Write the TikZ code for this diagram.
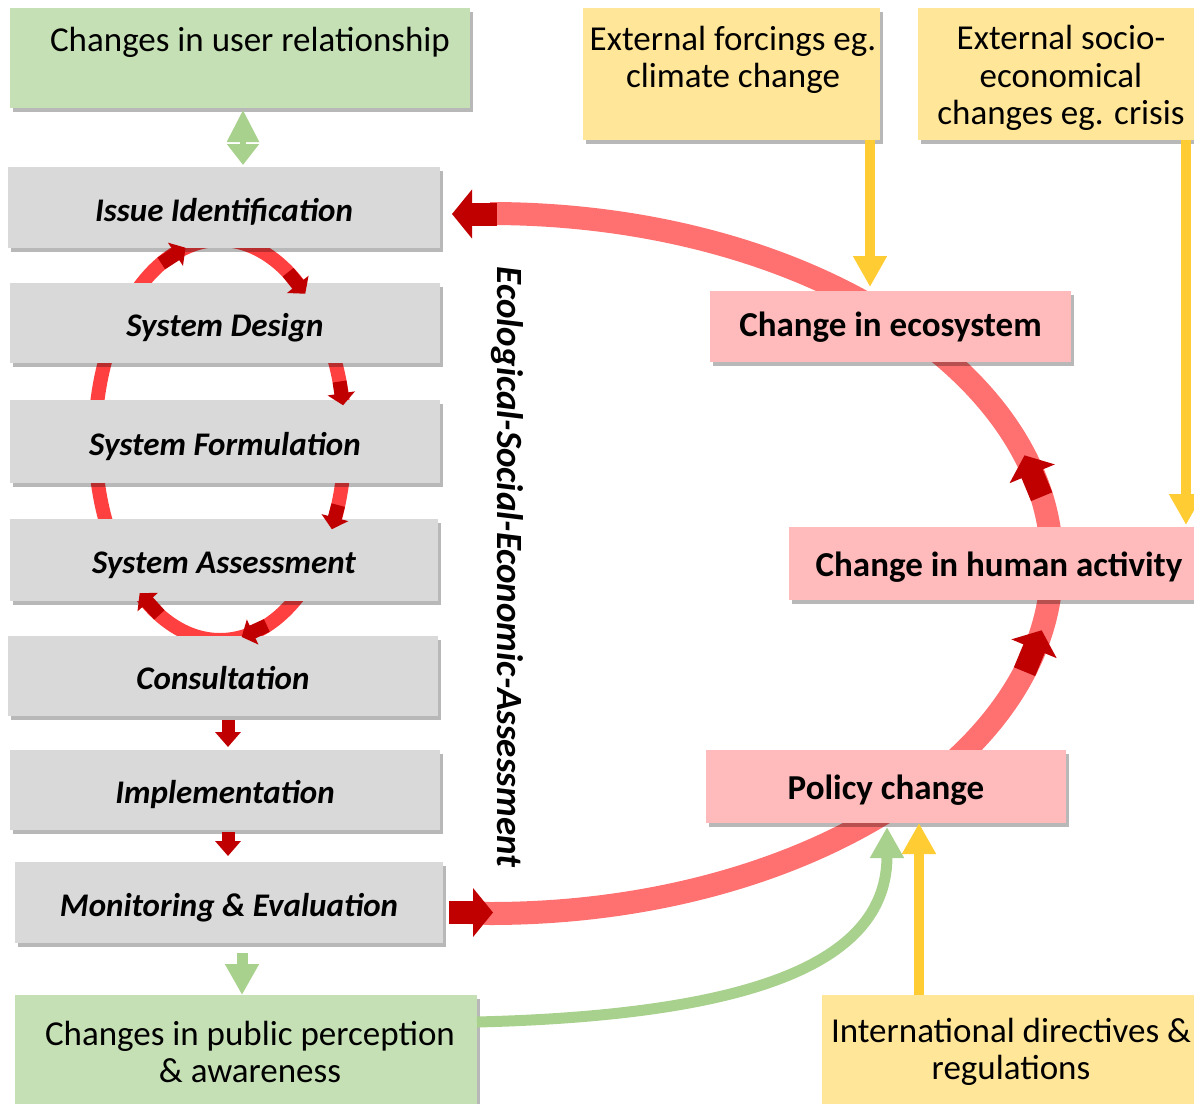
\documentclass[tikz,border=0pt]{standalone}
\usepackage{fontspec}
\setmainfont{Carlito}
\usetikzlibrary{arrows.meta,shadows,calc}
\definecolor{boxgreen}{HTML}{C5E0B4}
\definecolor{boxyellow}{HTML}{FFE699}
\definecolor{boxgrey}{HTML}{D9D9D9}
\definecolor{boxpink}{HTML}{FFBBBB}
\definecolor{bandred}{HTML}{FF7070}
\definecolor{loopred}{HTML}{FF4040}
\definecolor{darkred}{HTML}{C00000}
\definecolor{arrowyellow}{HTML}{FFCC33}
\definecolor{arrowgreen}{HTML}{A9D18E}
\begin{document}
\begin{tikzpicture}[x=1pt,y=1pt,
  shad/.style={drop shadow={shadow xshift=3pt,shadow yshift=-4pt,fill=black,opacity=0.28}},
  box/.style={rectangle,inner sep=0pt,outer sep=0pt,anchor=north west,shad},
  greybox/.style={box,fill=boxgrey,font=\fontsize{33}{38}\selectfont\bfseries\itshape,text height=31pt,text depth=4pt},
  pinkbox/.style={box,fill=boxpink,font=\fontsize{35}{38}\selectfont\bfseries,text height=30pt,text depth=4.5pt},
  greenbox/.style={box,fill=boxgreen},
  yellowbox/.style={box,fill=boxyellow},
  boxtext/.style={align=center,inner sep=0pt,font=\fontsize{35}{37.5}\selectfont},
  bigband/.style={bandred,line width=23pt},
  bighead/.style={darkred,line width=23pt,-{Triangle[length=20pt,width=48pt]}},
  loopband/.style={loopred,line width=14pt},
  loophead/.style={darkred,line width=14pt,-{Triangle[length=12pt,width=27pt]}},
  reddown/.style={darkred,line width=13pt,-{Triangle[length=15pt,width=25pt]}},
  greenarr/.style={arrowgreen,line width=11pt,-{Triangle[length=31pt,width=32pt]}},
  greendbl/.style={arrowgreen,line width=6pt,{Triangle[length=32pt,width=31pt]}-{Triangle[length=21pt,width=31pt]}},
  yellowarr/.style={arrowyellow,line width=10pt,-{Triangle[length=31pt,width=32pt]}}
]
\useasboundingbox (0,0) rectangle (1194,-1103);

% centres of the two loops
\coordinate (sc) at (220,-440);
\coordinate (bc) at (490,-563.5);

% small loop band (behind the grey boxes)
\draw[loopband] (sc) ellipse[x radius=125, y radius=200];
% big loop band (behind the pink boxes)
\draw[bigband] (470,-912.5) -- (490,-913.5) arc[start angle=-90,end angle=90,x radius=562,y radius=350];

% boxes
\node[greenbox,minimum width=460pt,minimum height=100pt] (ur) at (10,-8) {};
\node[yellowbox,minimum width=297pt,minimum height=132pt] (forc) at (583,-8) {};
\node[yellowbox,minimum width=290pt,minimum height=132pt] (soc) at (918,-8) {};

\node[greybox,minimum width=432pt,minimum height=81pt] (issue) at (8,-167) {Issue Identification};
\node[greybox,minimum width=430pt,minimum height=80pt] (design) at (10,-283) {System Design};
\node[greybox,minimum width=430pt,minimum height=83pt] (form) at (10,-400) {System Formulation};
\node[greybox,minimum width=428pt,minimum height=82pt] (assess) at (10,-519) {System Assessment};
\node[greybox,minimum width=430pt,minimum height=80pt] (cons) at (8,-636) {Consultation};
\node[greybox,minimum width=430pt,minimum height=80pt] (impl) at (10,-750) {Implementation};
\node[greybox,minimum width=428pt,minimum height=81pt] (mon) at (15,-862) {Monitoring \& Evaluation};

\node[pinkbox,minimum width=361pt,minimum height=71pt,text depth=10pt] (eco) at (710,-291) {Change in ecosystem};
\node[pinkbox,minimum width=420pt,minimum height=73pt] (hum) at (789,-527) {Change in human activity};
\node[pinkbox,minimum width=360pt,minimum height=73pt] (pol) at (706,-750) {Policy change};

\node[greenbox,minimum width=462pt,minimum height=115pt] (pub) at (15,-995) {};
\node[yellowbox,minimum width=380pt,minimum height=115pt] (intl) at (822,-995) {};

% box texts
\node[boxtext] (urt) at (250,-42) {Changes in user relationship};
\node[boxtext] (forct) at (733,-60) {External forcings eg.\\climate change};
\node[boxtext] (soct) at (1061,-78) {External socio-\\economical\\changes eg. crisis};
\node[boxtext] (pubt) at (250,-1052) {Changes in public perception\\\& awareness};
\node[boxtext] (intlt) at (1011,-1052) {International directives \&\\regulations};

% vertical label
\node[rotate=-90,inner sep=0pt,font=\fontsize{37}{40}\selectfont\bfseries\itshape] (esea) at (507,-567) {Ecological-Social-Economic-Assessment};

% heads of the small loop
\draw[loophead] ($(sc)+(118:125 and 200)$) -- ($(sc)+(106:125 and 200)$);
\draw[loophead] ($(sc)+(57:125 and 200)$) -- ($(sc)+(47:125 and 200)$);
\draw[loophead] ($(sc)+(17:125 and 200)$) -- ($(sc)+(10:125 and 200)$);
\draw[loophead] ($(sc)+(-19:125 and 200)$) -- ($(sc)+(-26.5:125 and 200)$);
\draw[loophead] ($(sc)+(-68:125 and 200)$) -- ($(sc)+(-80:125 and 200)$);
\draw[loophead] ($(sc)+(-119:125 and 200)$) -- ($(sc)+(-130:125 and 200)$);

% heads of the big loop
\draw[bighead] ([xshift=6pt,yshift=-10pt]mon.east) -- ([xshift=50pt,yshift=-10pt]mon.east);
\draw[bighead] ([xshift=57pt,yshift=-6.5pt]issue.east) -- ([xshift=12pt,yshift=-6.5pt]issue.east);
\draw[bighead] ($(bc)+(-18:562 and 350)$) -- ($(bc)+(-11:562 and 350)$);
\draw[bighead] ($(bc)+(11:562 and 350)$) -- ($(bc)+(18:562 and 350)$);

% straight arrows in the left column
\draw[reddown] ([xshift=5pt,yshift=-4pt]cons.south) -- ([xshift=3pt,yshift=3pt]impl.north);
\draw[reddown] ([xshift=3pt,yshift=-2pt]impl.south) -- ([xshift=-1pt,yshift=6pt]mon.north);
\draw[greenarr] ([xshift=13pt,yshift=-10pt]mon.south) -- ([xshift=-4pt]pub.north);
\draw[greendbl] ([xshift=3pt,yshift=-2pt]ur.south) -- ([xshift=19pt,yshift=2pt]issue.north);

% green curve to policy change
\draw[greenarr] ([yshift=-27pt]pub.north east) .. controls (760,-1015) and (887,-960) .. ([xshift=1pt,yshift=-4pt]pol.south);

% yellow arrows
\coordinate (f1) at ($(forc.south east)+(-10,0)$);
\coordinate (s1) at ($(soc.south east)+(-22,0)$);
\coordinate (i1) at ($(intl.north west)+(97,0)$);
\draw[yellowarr,shorten >=4pt] (f1) -- (f1 |- eco.north);
\draw[yellowarr,shorten >=2pt] (s1) -- (s1 |- hum.north);
\draw[yellowarr] (i1) -- (i1 |- pol.south);
\end{tikzpicture}
\end{document}
